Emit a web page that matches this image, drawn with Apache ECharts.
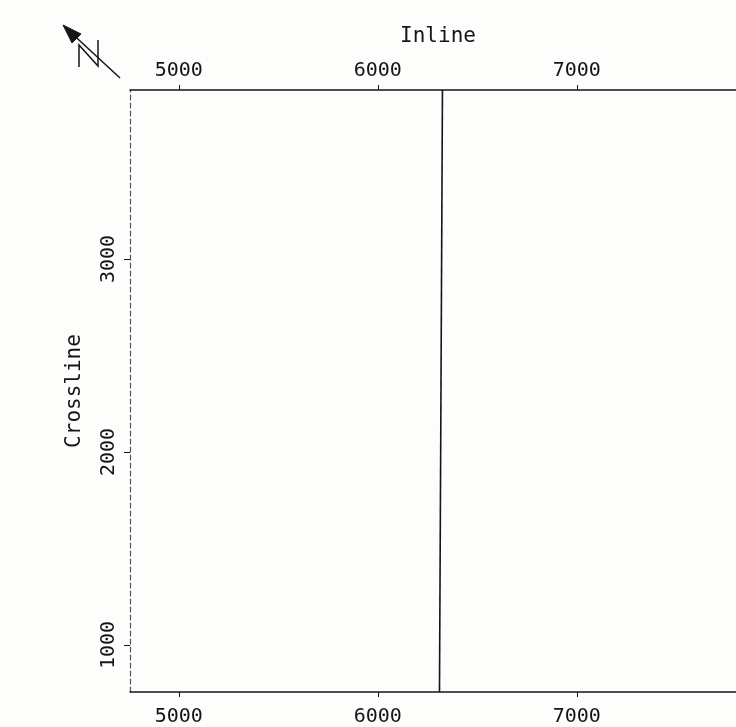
<!DOCTYPE html>
<html>
<head>
<meta charset="utf-8">
<script src="https://cdn.jsdelivr.net/npm/echarts@6/dist/echarts.min.js"></script>
<style>
html,body{margin:0;padding:0;background:#fdfdfc;}
#chart{width:736px;height:727px;}
</style>
</head>
<body>
<div id="chart"></div>
<script>
// Axis ranges and ticks
const inlineRange = [4755, 7800];
const crosslineRange = [756, 3876];
const inlineTicks = [5000, 6000, 7000];
const crosslineTicks = [1000, 2000, 3000];
// Seismic line (inline, crossline) endpoints
const lineInline = [6310, 6325];
const lineCrossline = [756, 3876];

const lineData = lineInline.map((v, i) => [v, lineCrossline[i]]);

const font = 'DejaVu Sans Mono';
const ink = '#151515';
const fmt = v => String(v);

const chart = echarts.init(document.getElementById('chart'));
const xCommon = {
  type: 'value',
  min: inlineRange[0],
  max: inlineRange[1],
  splitLine: {show: false},
  axisLine: {show: true, lineStyle: {color: ink, width: 1.6}},
  axisTick: {show: true, customValues: inlineTicks, length: 5, lineStyle: {color: ink}},
  axisLabel: {customValues: inlineTicks, formatter: fmt, color: ink, fontFamily: font, fontSize: 20}
};
chart.setOption({
  backgroundColor: '#fdfdfc',
  animation: false,
  grid: {left: 130, top: 90, right: 0, bottom: 35, containLabel: false},
  xAxis: [
    Object.assign({}, xCommon, {position: 'bottom', axisLabel: Object.assign({}, xCommon.axisLabel, {margin: 15})}),
    Object.assign({}, xCommon, {
      position: 'top',
      axisLabel: Object.assign({}, xCommon.axisLabel, {margin: 9}),
      name: 'Inline',
      nameLocation: 'middle',
      nameGap: 43,
      nameTextStyle: {color: ink, fontFamily: font, fontSize: 21, padding: [0, 0, 0, 10]}
    })
  ],
  yAxis: {
    type: 'value',
    min: crosslineRange[0],
    max: crosslineRange[1],
    splitLine: {show: false},
    axisLine: {show: true, lineStyle: {color: '#555', width: 1.2, type: [5, 3]}},
    axisTick: {show: true, customValues: crosslineTicks, length: 6, lineStyle: {color: ink}},
    axisLabel: {customValues: crosslineTicks, formatter: fmt, rotate: 90, color: ink, fontFamily: font, fontSize: 20, margin: 11},
    name: 'Crossline',
    nameLocation: 'middle',
    nameGap: 45,
    nameRotate: 90,
    nameTextStyle: {color: ink, fontFamily: font, fontSize: 21}
  },
  series: [{
    type: 'line',
    xAxisIndex: 0,
    data: lineData,
    symbol: 'none',
    lineStyle: {color: ink, width: 1.6}
  }],
  graphic: [
    {type: 'polyline', shape: {points: [[120, 78], [66, 28]]}, style: {stroke: ink, lineWidth: 1.5, fill: null}},
    {type: 'polygon', shape: {points: [[63, 25], [81, 34], [72, 43]]}, style: {fill: ink, stroke: ink, lineWidth: 1}},
    {type: 'polyline', shape: {points: [[79, 67], [79, 45], [98, 66], [98, 40]]}, style: {stroke: ink, lineWidth: 1.5, fill: null}}
  ]
});
</script>
</body>
</html>
